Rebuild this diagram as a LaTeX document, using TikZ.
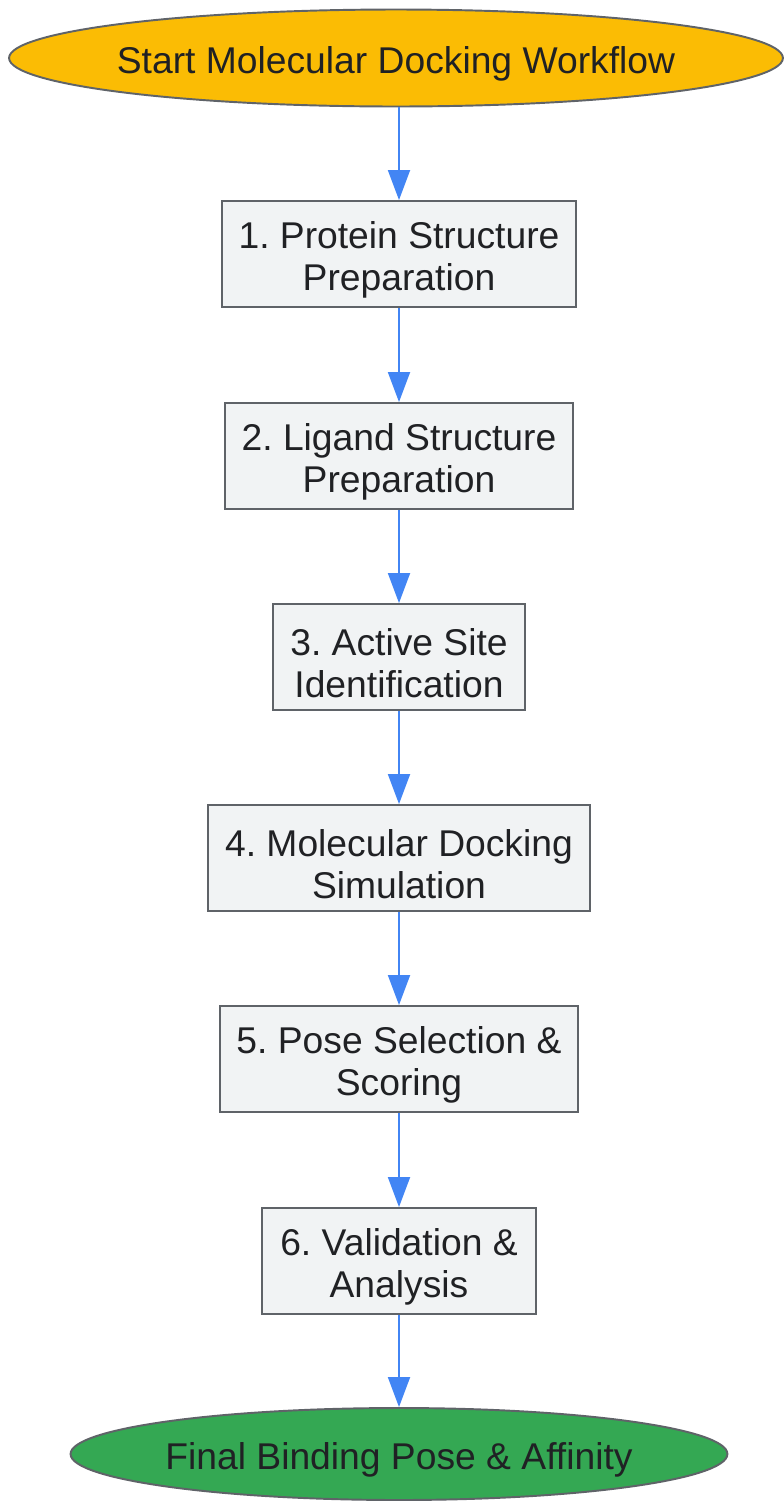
\documentclass[tikz,border=0pt]{standalone}
\usepackage{fontspec}
\setmainfont{Liberation Sans}
\usepackage{tikz}
\usetikzlibrary{arrows.meta,shapes.geometric,positioning}
\definecolor{startfill}{HTML}{FBBC04}
\definecolor{endfill}{HTML}{34A853}
\definecolor{boxfill}{HTML}{F1F3F4}
\definecolor{boxline}{HTML}{5F6368}
\definecolor{flowblue}{HTML}{4285F4}
\definecolor{txt}{HTML}{202124}
\frenchspacing
\tikzstyle{term} = [ellipse, draw=boxline, line width=1.1pt, text=txt, inner ysep=0pt, inner xsep=-0.12cm, font=\fontsize{21.2}{23.9}\selectfont, execute at begin node=\rule{0pt}{22.3pt}]
\tikzstyle{stepbox} = [rectangle, draw=boxline, fill=boxfill, line width=1.1pt, text=txt, align=center, minimum height=2.12cm, inner sep=0pt, font=\fontsize{21.2}{23.9}\selectfont, execute at begin node=\rule{0pt}{46pt}]
\tikzstyle{arrow} = [line width=1.1pt, draw=flowblue, -{Triangle[length=0.6cm,width=0.44cm]}]
\begin{document}
\begin{tikzpicture}[x=0.02cm,y=-0.02cm]
                    \useasboundingbox (0,0) rectangle (784,1502);
                    \node [term, fill=startfill, minimum width=15.48cm, minimum height=1.94cm] (start) at (396,58) {Start Molecular Docking Workflow};
                    \node [stepbox, minimum width=7.08cm] (protein) at (399,254) {1. Protein Structure\\Preparation};
                    \node [stepbox, minimum width=6.96cm] (ligand) at (399,456) {2. Ligand Structure\\Preparation};
                    \node [stepbox, minimum width=5.04cm] (site) at (399,657) {3. Active Site\\Identification};
                    \node [stepbox, minimum width=7.64cm] (docking) at (399,858) {4. Molecular Docking\\Simulation};
                    \node [stepbox, minimum width=7.16cm] (pose) at (399,1059) {5. Pose Selection \&\\Scoring};
                    \node [stepbox, minimum width=5.48cm] (valid) at (399,1261) {6. Validation \&\\Analysis};
                    \node [term, fill=endfill, minimum width=13.14cm, minimum height=1.84cm] (final) at (399,1454) {Final Binding Pose \& Affinity};
                    \draw [arrow] (protein |- start.south) -- (protein);
                    \draw [arrow] (protein) -- (ligand);
                    \draw [arrow] (ligand) -- (site);
                    \draw [arrow] (site) -- (docking);
                    \draw [arrow] (docking) -- (pose);
                    \draw [arrow] (pose) -- (valid);
                    \draw [arrow] (valid) -- (final);
                \end{tikzpicture}
\end{document}
